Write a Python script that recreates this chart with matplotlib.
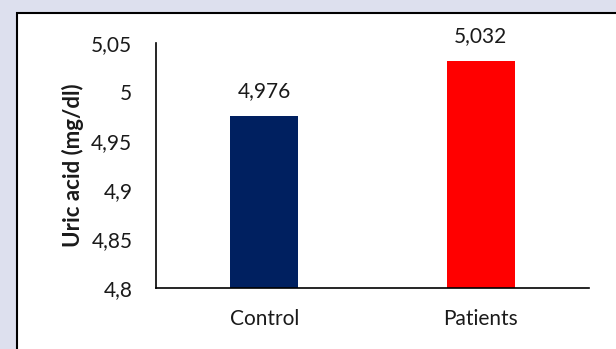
import matplotlib
matplotlib.use("Agg")
import matplotlib.pyplot as plt
from matplotlib.patches import Rectangle

categories = ["Control", "Patients"]
values = [4.976, 5.032]
value_labels = ["4,976", "5,032"]
yticks = [4.8, 4.85, 4.9, 4.95, 5.0, 5.05]
ytick_labels = ["4,8", "4,85", "4,9", "4,95", "5", "5,05"]
colors = ["#002060", "#FF0000"]

plt.rcParams['font.family'] = ['Lato', 'DejaVu Sans']
TXT = "#1A1A1A"

W, H = 616, 349
fig = plt.figure(figsize=(W/100, H/100), dpi=100)
fig.patch.set_facecolor("#DDE0EE")

# background axes holding the white panel with black border
bg = fig.add_axes([0, 0, 1, 1], zorder=0)
bg.set_xlim(0, W)
bg.set_ylim(H, 0)
bg.axis("off")
bg.add_patch(Rectangle((17, 13), W + 50, H + 50, facecolor="white",
                       edgecolor="black", linewidth=1.5))

ax = fig.add_axes([156/W, 1 - 288/H, (589-156)/W, (288-43)/H], zorder=1)
ax.set_facecolor("none")
x = range(len(categories))
ax.bar(x, values, width=0.314, color=colors, zorder=2)
ax.set_xlim(-0.5, 1.5)
ax.set_ylim(4.8, 5.05)
ax.set_yticks(yticks)
ax.set_yticklabels(ytick_labels, fontsize=15)
ax.set_xticks(list(x))
ax.set_xticklabels(categories, fontsize=15)
ax.tick_params(axis='both', length=0, colors=TXT)
ax.tick_params(axis='y', pad=17)
ax.tick_params(axis='x', pad=15)
for s in ["top", "right"]:
    ax.spines[s].set_visible(False)
ax.spines["left"].set_linewidth(1.2)
ax.spines["bottom"].set_linewidth(1.2)
for xi, v, lab in zip(x, values, value_labels):
    ax.annotate(lab, (xi, v), xytext=(0, 13), textcoords="offset points",
                ha="center", va="baseline", fontsize=15, color=TXT)
ax.set_ylabel("Uric acid (mg/dl)", fontsize=16, fontweight="bold", labelpad=5, color=TXT)

fig.savefig("out.png", dpi=100, facecolor=fig.get_facecolor())
